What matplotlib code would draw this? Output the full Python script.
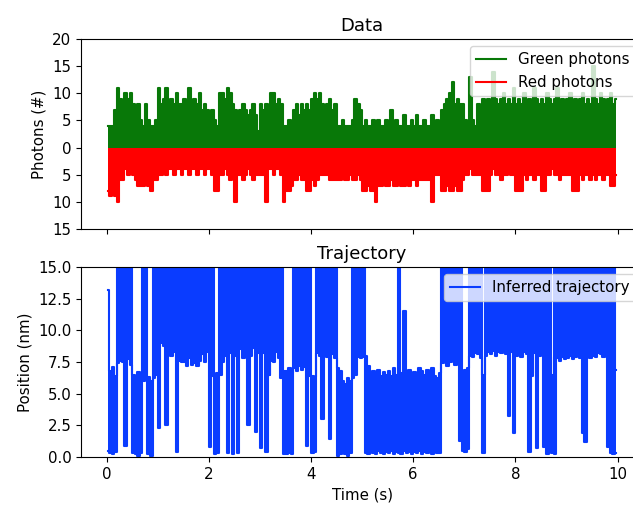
import numpy as np
from matplotlib import pyplot as plt
from matplotlib.ticker import FuncFormatter

# photon counts read per 0.05 s bin (peak of each bin), one line = 0.5 s
bin_w = 0.05
green = [4, 4, 4, 7, 11, 9, 8, 10, 9, 10,
         8, 7, 8, 5, 4, 8, 5, 4, 4, 5,
         11, 8, 9, 11, 8, 9, 8, 10, 8, 8,
         9, 8, 11, 8, 9, 8, 10, 7, 8, 7,
         6, 7, 5, 4, 10, 10, 9, 11, 10, 8,
         7, 6, 7, 8, 7, 6, 7, 8, 6, 3,
         8, 7, 8, 7, 10, 10, 8, 9, 8, 4,
         4, 5, 4, 7, 8, 6, 8, 7, 8, 7,
         9, 10, 9, 10, 8, 7, 8, 9, 7, 8,
         4, 4, 5, 4, 4, 4, 5, 9, 8, 7,
         4, 5, 4, 4, 5, 4, 5, 4, 4, 5,
         4, 7, 4, 5, 4, 4, 6, 4, 4, 5,
         4, 6, 4, 4, 5, 4, 4, 6, 4, 5,
         4, 7, 8, 9, 10, 12, 8, 9, 8, 8,
         5, 4, 13, 5, 4, 8, 5, 9, 8, 9,
         8, 14, 9, 8, 9, 10, 8, 9, 8, 11,
         8, 9, 8, 10, 8, 9, 8, 11, 9, 8,
         9, 8, 10, 9, 8, 9, 11, 8, 9, 8,
         9, 10, 8, 9, 8, 9, 10, 8, 9, 8,
         15, 9, 8, 10, 9, 8, 9, 10, 8, 9]
red = [8, 9, 8, 9, 10, 6, 6, 4, 5, 4,
       5, 6, 7, 7, 7, 6, 7, 8, 6, 6,
       5, 5, 4, 5, 4, 4, 5, 4, 4, 5,
       4, 4, 5, 4, 4, 5, 4, 4, 5, 4,
       4, 5, 8, 8, 5, 5, 4, 5, 6, 5,
       10, 5, 5, 6, 5, 4, 5, 6, 5, 5,
       5, 5, 10, 4, 4, 5, 4, 4, 5, 10,
       8, 8, 7, 6, 6, 5, 6, 6, 8, 8,
       6, 7, 6, 5, 5, 5, 5, 6, 6, 6,
       6, 6, 5, 6, 6, 5, 6, 6, 5, 6,
       8, 8, 7, 8, 8, 10, 7, 7, 6, 7,
       7, 6, 7, 7, 6, 7, 7, 6, 7, 6,
       6, 7, 6, 6, 6, 6, 6, 10, 5, 5,
       5, 8, 8, 7, 8, 8, 7, 8, 8, 6,
       5, 5, 4, 5, 5, 5, 5, 8, 8, 8,
       5, 4, 5, 5, 6, 5, 5, 4, 5, 5,
       8, 8, 8, 5, 6, 5, 5, 6, 5, 5,
       8, 8, 5, 5, 4, 5, 5, 6, 5, 5,
       5, 5, 8, 8, 8, 5, 6, 5, 5, 6,
       5, 6, 5, 5, 6, 5, 5, 7, 7, 5]

# inferred trajectory: lowest and highest position reached in each 0.05 s bin
traj_low = [0.5, 0.3, 0.2, 0.4, 7.4, 7.6, 7.5, 0.9, 7.7, 7.3,
            0.3, 0.2, 0.1, 0.3, 6.0, 6.3, 0.2, 0.1, 6.2, 6.5,
            2.3, 9.0, 8.8, 2.5, 8.5, 8.0, 8.3, 0.4, 7.6, 7.5,
            7.5, 7.2, 7.8, 7.3, 7.4, 7.2, 7.6, 8.1, 7.5, 8.3,
            0.8, 6.4, 0.2, 0.3, 6.5, 7.5, 8.0, 0.3, 8.2, 0.2,
            8.0, 0.3, 8.5, 7.8, 8.4, 2.5, 8.0, 8.6, 2.0, 8.2,
            0.7, 8.2, 0.4, 6.5, 7.6, 7.5, 8.3, 7.8, 6.2, 0.2,
            0.2, 0.3, 0.2, 7.0, 6.8, 7.2, 6.9, 7.1, 0.9, 6.4,
            0.3, 0.4, 8.2, 8.0, 3.0, 8.3, 7.9, 1.4, 8.1, 7.8,
            0.1, 0.2, 0.3, 0.2, 0.1, 0.3, 6.2, 6.5, 7.9, 7.8,
            7.9, 0.3, 0.2, 0.4, 0.3, 0.2, 0.5, 0.3, 0.2, 0.4,
            0.3, 0.5, 0.2, 0.4, 0.3, 0.2, 0.5, 0.3, 0.4, 0.2,
            0.4, 0.3, 0.5, 0.2, 0.4, 0.3, 0.5, 0.2, 0.4, 0.3,
            0.3, 7.4, 7.6, 7.2, 7.5, 7.8, 7.3, 7.6, 1.3, 0.5,
            0.4, 0.6, 8.0, 7.9, 8.2, 8.1, 7.8, 0.3, 8.0, 8.3,
            8.1, 8.4, 8.0, 8.3, 8.2, 8.5, 8.1, 3.2, 8.3, 1.9,
            8.0, 8.2, 7.9, 8.3, 8.1, 0.4, 6.4, 8.2, 0.7, 8.0,
            8.1, 0.8, 0.2, 7.9, 0.3, 0.2, 7.8, 7.6, 7.9, 7.7,
            7.8, 8.0, 7.7, 7.9, 8.1, 7.8, 1.9, 1.2, 8.0, 7.8,
            8.0, 7.9, 8.2, 8.1, 7.9, 8.0, 0.8, 0.3, 0.2, 0.3]
traj_high = [13.2, 6.8, 7.1, 6.4, 15, 15, 15, 15, 15, 15,
             6.5, 6.2, 6.7, 6.5, 15, 15, 6.3, 6.0, 15, 15,
             15, 15, 15, 15, 15, 15, 15, 15, 15, 15,
             15, 15, 15, 15, 15, 15, 15, 15, 15, 15,
             15, 15, 6.3, 6.6, 15, 15, 15, 15, 15, 15,
             15, 15, 15, 15, 15, 15, 15, 15, 15, 15,
             15, 15, 15, 6.5, 15, 15, 15, 15, 15, 6.8,
             6.8, 7.0, 6.6, 15, 15, 15, 15, 15, 15, 15,
             6.4, 6.3, 15, 15, 15, 15, 15, 15, 15, 15,
             7.0, 6.8, 6.0, 5.8, 6.2, 6.0, 15, 15, 15, 15,
             15, 8.0, 7.2, 6.3, 6.8, 6.5, 6.9, 6.4, 6.7, 6.5,
             6.8, 6.4, 7.0, 6.5, 15, 6.6, 11.5, 6.4, 6.9, 6.5,
             6.7, 6.4, 7.0, 6.8, 6.5, 6.9, 6.6, 7.0, 6.4, 6.2,
             6.6, 15, 15, 15, 15, 15, 15, 15, 15, 6.8,
             6.9, 7.0, 15, 15, 15, 15, 15, 6.5, 15, 15,
             15, 15, 15, 15, 15, 15, 15, 15, 15, 15,
             15, 15, 15, 15, 15, 15, 6.6, 15, 15, 15,
             15, 15, 15, 15, 6.5, 15, 15, 15, 15, 15,
             15, 15, 15, 15, 15, 15, 15, 15, 15, 15,
             15, 15, 15, 15, 15, 15, 15, 15, 15, 6.9]

c_green = '#087808'
c_red = '#ff0000'
c_blue = '#0a3cff'

plt.rcParams['font.size'] = 10.8

t = np.arange(len(green)) * bin_w + bin_w / 2
g = np.array(green)
r = -np.array(red)

fig = plt.figure(figsize=(6.33, 5.05), dpi=100)
ax1 = fig.add_axes([0.128, 0.5465, 0.888, 0.3763])
ax2 = fig.add_axes([0.128, 0.095, 0.888, 0.3763], sharex=ax1)

ax1.fill_between(t, 0, g, step='mid', color=c_green, lw=0)
ax1.plot(t, g, drawstyle='steps-mid', color=c_green, lw=1.5, label='Green photons')
ax1.fill_between(t, r, 0, step='mid', color=c_red, lw=0)
ax1.plot(t, r, drawstyle='steps-mid', color=c_red, lw=1.5, label='Red photons')
ax1.set_ylim(-15, 20)
ax1.set_yticks(np.arange(-15, 21, 5))
ax1.yaxis.set_major_formatter(FuncFormatter(lambda v, p: '%d' % abs(v)))
ax1.set_ylabel('Photons (#)')
ax1.set_title('Data')
ax1.legend(loc='upper right')
ax1.tick_params(labelbottom=False)

ax2.fill_between(t, traj_low, traj_high, step='mid', color=c_blue, lw=0)
ax2.plot(t, traj_high, drawstyle='steps-mid', color=c_blue, lw=1.5, label='Inferred trajectory')
ax2.plot(t, traj_low, drawstyle='steps-mid', color=c_blue, lw=1.5)
ax2.set_ylim(0, 15)
ax2.set_xlim(-0.5, 10.5)
ax2.set_xticks(np.arange(0, 11, 2))
ax2.set_ylabel('Position (nm)')
ax2.set_xlabel('Time (s)')
ax2.set_title('Trajectory')
ax2.legend(loc='upper right')

fig.savefig('out.png', dpi=100)
